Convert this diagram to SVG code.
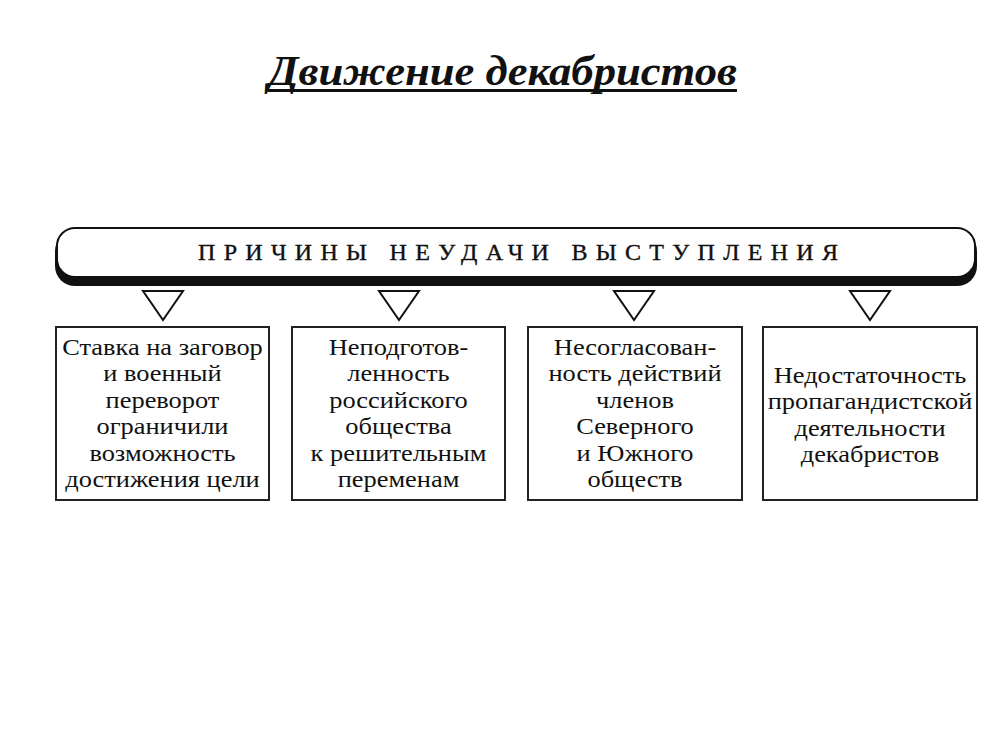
<svg xmlns="http://www.w3.org/2000/svg" width="1008" height="756" viewBox="0 0 1008 756">
<style>
.t{font-family:"Liberation Serif","Times New Roman",serif;fill:#111;text-anchor:middle;font-size:24px}
.box{fill:#fff;stroke:#222;stroke-width:2}
.tri{fill:#fff;stroke:#111;stroke-width:2;stroke-linejoin:miter}
</style>
<rect width="1008" height="756" fill="#fff"/>
<g id="title">
<text x="268" y="85" font-family="'Liberation Serif','Times New Roman',serif" font-size="43" font-weight="bold" font-style="italic" fill="#111" textLength="469" lengthAdjust="spacingAndGlyphs">Движение декабристов</text>
<rect x="268" y="89" width="469" height="3" fill="#111"/>
</g>
<g id="banner">
<rect x="55" y="231" width="922" height="55" rx="20" fill="#111"/>
<rect x="57" y="228" width="918" height="49" rx="18" fill="#fff" stroke="#111" stroke-width="2"/>
<text x="198" y="260" font-family="'Liberation Serif','Times New Roman',serif" font-size="24" fill="#111" stroke="#111" stroke-width="0.4" textLength="640" lengthAdjust="spacing">ПРИЧИНЫ НЕУДАЧИ ВЫСТУПЛЕНИЯ</text>
</g>
<g id="connectors">
<polygon class="tri" points="143,291 183,291 163,320"/>
<polygon class="tri" points="379,291 419,291 399,320"/>
<polygon class="tri" points="614,291 654,291 634,320"/>
<polygon class="tri" points="850,291 890,291 870,320"/>
</g>
<g id="node1">
<rect class="box" x="56" y="327" width="213" height="173"/>
<g transform="translate(162.5 0) scale(1.1 1)">
<text class="t" x="0" y="355">Ставка на заговор</text>
<text class="t" x="0" y="381">и военный</text>
<text class="t" x="0" y="408">переворот</text>
<text class="t" x="0" y="434">ограничили</text>
<text class="t" x="0" y="461">возможность</text>
<text class="t" x="0" y="487">достижения цели</text>
</g>
</g>
<g id="node2">
<rect class="box" x="292" y="327" width="213" height="173"/>
<g transform="translate(398.5 0) scale(1.1 1)">
<text class="t" x="0" y="355">Неподготов-</text>
<text class="t" x="0" y="381">ленность</text>
<text class="t" x="0" y="408">российского</text>
<text class="t" x="0" y="434">общества</text>
<text class="t" x="0" y="461">к решительным</text>
<text class="t" x="0" y="487">переменам</text>
</g>
</g>
<g id="node3">
<rect class="box" x="528" y="327" width="214" height="173"/>
<g transform="translate(635 0) scale(1.1 1)">
<text class="t" x="0" y="355">Несогласован-</text>
<text class="t" x="0" y="381">ность действий</text>
<text class="t" x="0" y="408">членов</text>
<text class="t" x="0" y="434">Северного</text>
<text class="t" x="0" y="461">и Южного</text>
<text class="t" x="0" y="487">обществ</text>
</g>
</g>
<g id="node4">
<rect class="box" x="763" y="327" width="214" height="173"/>
<g transform="translate(870 0) scale(1.1 1)">
<text class="t" x="0" y="383">Недостаточность</text>
<text class="t" x="0" y="409">пропагандистской</text>
<text class="t" x="0" y="436">деятельности</text>
<text class="t" x="0" y="462">декабристов</text>
</g>
</g>
</svg>
